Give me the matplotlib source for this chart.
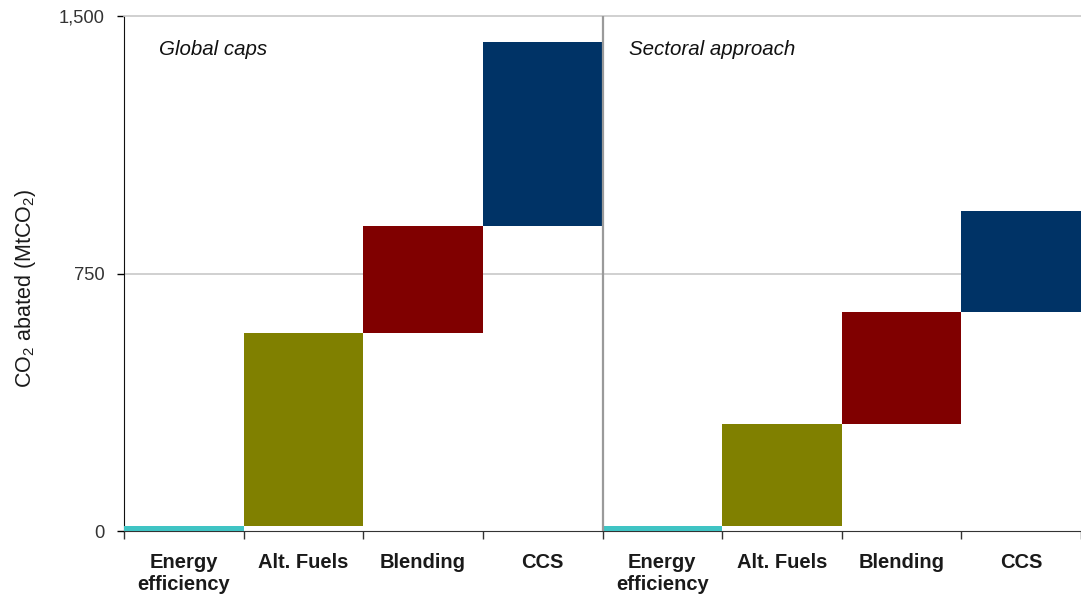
import numpy as np
import matplotlib
matplotlib.use("Agg")
import matplotlib.pyplot as plt

plt.rcParams['font.family'] = ['Liberation Sans', 'DejaVu Sans']
plt.rcParams['mathtext.default'] = 'regular'

# data (MtCO2 abated, incremental per lever)
levers = ["Energy\nefficiency", "Alt. Fuels", "Blending", "CCS"]
global_caps = [15, 562, 312, 535]
sectoral = [15, 297, 326, 294]
colors = ["#3FC4C4", "#808000", "#800000", "#003366"]
panel_titles = ["Global caps", "Sectoral approach"]
title_x = [0.29, 4.22]
yticks = [0, 750, 1500]

fig = plt.figure(figsize=(10.81, 5.97), dpi=100)
ax = fig.add_axes([124 / 1081, 66 / 597, (1081 - 124) / 1081, 515 / 597])

n = len(levers)
for g, vals in enumerate([global_caps, sectoral]):
    tops = np.cumsum(vals)
    bottoms = tops - np.array(vals)
    x = np.arange(n) + g * n
    ax.bar(x, vals, bottom=bottoms, width=1.0, align='edge',
           color=colors, edgecolor='none', zorder=3)
    ax.text(title_x[g], 1402, panel_titles[g], style='italic',
            fontsize=14.8, color='#111111', va='center', ha='left')

ax.set_xlim(0, (1081 - 124) / 120)
ax.set_ylim(0, 1500)

ax.axvline(n, color='#9A9A9A', lw=1.6, zorder=4)
ax.axhline(750, color='#C8C8C8', lw=1.2, zorder=1)

ax.set_yticks(yticks)
ax.set_yticklabels([f"{v:,}" for v in yticks], fontsize=13.2, color='#333333')
ax.tick_params(axis='y', direction='out', length=5, width=1, pad=9)

ax.set_xticks(np.arange(2 * n + 1))
ax.set_xticklabels([])
ax.set_xticks(np.arange(2 * n) + 0.5, minor=True)
ax.set_xticklabels(levers * 2, minor=True, fontsize=14.5, fontweight='bold',
                   color='#1a1a1a', linespacing=1.2)
ax.tick_params(axis='x', which='major', direction='out', length=6, width=1,
               color='#333333')
ax.tick_params(axis='x', which='minor', length=0, pad=16)
for lbl in ax.get_xticklabels(minor=True):
    lbl.set_verticalalignment('top')

ax.spines['right'].set_visible(False)
ax.spines['top'].set_color('#C8C8C8')
ax.spines['top'].set_linewidth(1.2)
ax.spines['left'].set_color('#111111')
ax.spines['bottom'].set_color('#333333')

ax.set_ylabel(r"CO$_2$ abated (MtCO$_2$)", fontsize=15.5, color='#1a1a1a')
ax.yaxis.set_label_coords(-86 / 957, (531 - 288) / 515)

fig.savefig("out.png", dpi=100)
